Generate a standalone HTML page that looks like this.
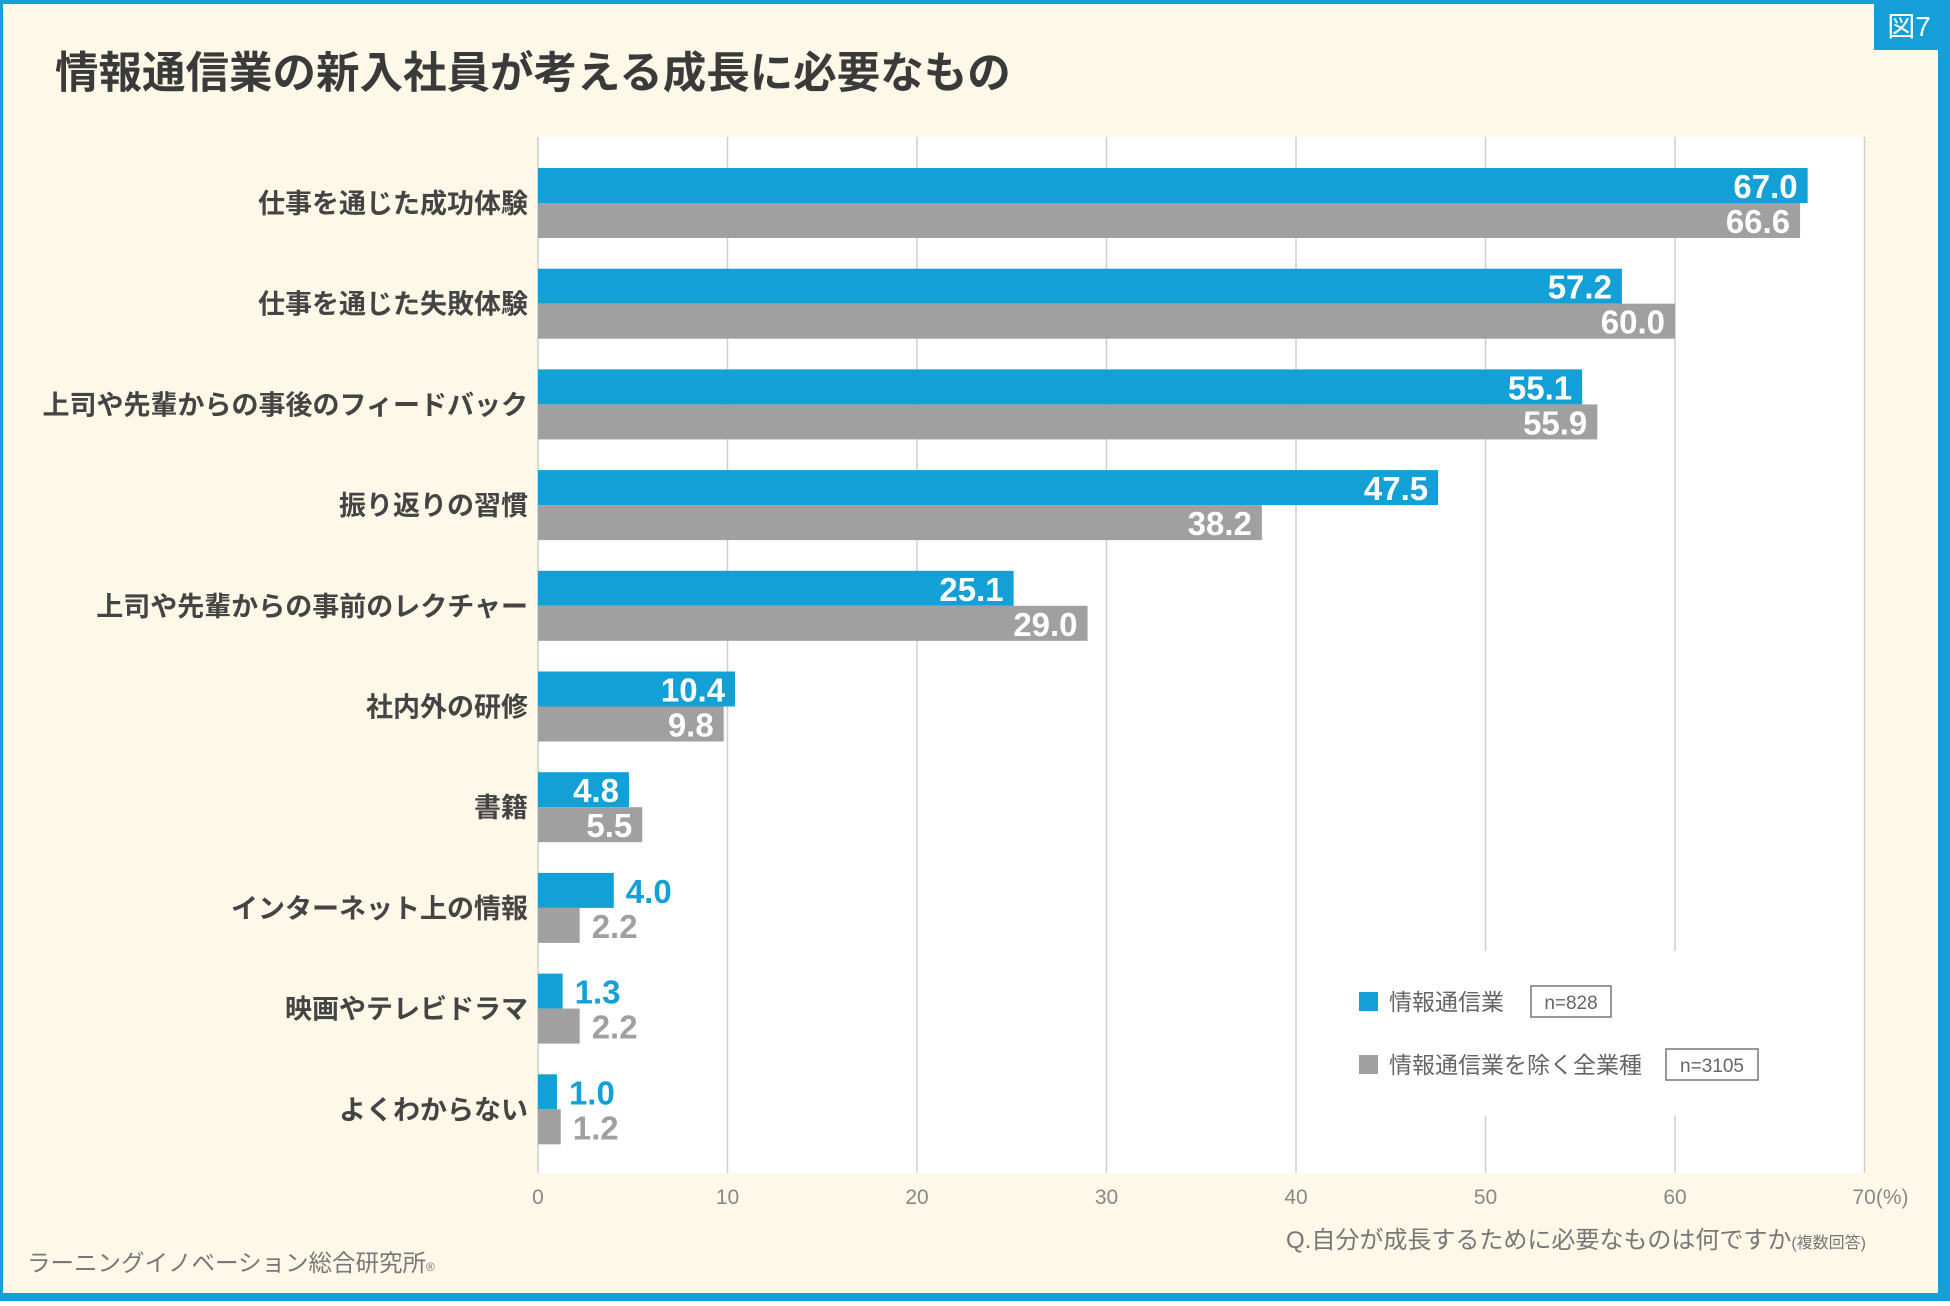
<!DOCTYPE html>
<html><head><meta charset="utf-8"><style>
html,body{margin:0;padding:0}
body{width:1950px;height:1301px;overflow:hidden;font-family:"Liberation Sans","Noto Sans CJK JP",sans-serif}
</style></head><body>
<svg id="chart" width="1950" height="1301" xmlns="http://www.w3.org/2000/svg" font-family="Liberation Sans, Noto Sans CJK JP, sans-serif">
<rect x="0" y="0" width="1950" height="1301" fill="#159fd8"/>
<rect x="3" y="4" width="1935" height="1289" fill="#fdf8e8"/>
<rect x="1874" y="2" width="70" height="48" fill="#159fd8"/>
<text x="1909" y="36" font-size="28" fill="#fff" text-anchor="middle">図7</text>
<text x="55" y="88" font-size="43.5" font-weight="bold" fill="#3a3a3a">情報通信業の新入社員が考える成長に必要なもの</text>
<rect x="538" y="137" width="1327" height="1036" fill="#fff"/>
<g id="grid"></g>
<rect x="1318" y="951" width="530" height="165" fill="#fff"/>
<g id="bars"></g>
<g id="ticks"></g>
<g>
<rect x="1359" y="992" width="19" height="19" fill="#12a0d7"/>
<text x="1389" y="1010" font-size="23" fill="#666">情報通信業</text>
<rect x="1531" y="986" width="80" height="31" fill="none" stroke="#777" stroke-width="1.5"/>
<text x="1571" y="1009" font-size="19" fill="#666" text-anchor="middle">n=828</text>
<rect x="1359" y="1055" width="19" height="19" fill="#a0a0a0"/>
<text x="1389" y="1073" font-size="23" fill="#666">情報通信業を除く全業種</text>
<rect x="1666" y="1049" width="92" height="31" fill="none" stroke="#777" stroke-width="1.5"/>
<text x="1712" y="1072" font-size="19" fill="#666" text-anchor="middle">n=3105</text>
</g>
<text x="1866" y="1248" font-size="24" fill="#777" text-anchor="end">Q.自分が成長するために必要なものは何ですか<tspan font-size="16">(複数回答)</tspan></text>
<text x="27" y="1271" font-size="23.5" fill="#777">ラーニングイノベーション総合研究所<tspan font-size="12">®</tspan></text>
</svg>
<script>
const categories=["仕事を通じた成功体験","仕事を通じた失敗体験","上司や先輩からの事後のフィードバック","振り返りの習慣","上司や先輩からの事前のレクチャー","社内外の研修","書籍","インターネット上の情報","映画やテレビドラマ","よくわからない"];
const ictValues=[67.0,57.2,55.1,47.5,25.1,10.4,4.8,4.0,1.3,1.0];
const otherValues=[66.6,60.0,55.9,38.2,29.0,9.8,5.5,2.2,2.2,1.2];
const tickValues=[0,10,20,30,40,50,60,70];
const tickLabels=["0","10","20","30","40","50","60","70(%)"];
const NS="http://www.w3.org/2000/svg";
const x0=538,x70=1864.5;
function xs(v){return x0+(x70-x0)*v/70;}
function ys(i){return 168+i*100.7;}
function mk(tag,attrs,parent,txt){const e=document.createElementNS(NS,tag);for(const k in attrs)e.setAttribute(k,attrs[k]);if(txt!==undefined)e.textContent=txt;parent.appendChild(e);return e;}
const grid=document.getElementById('grid'),bars=document.getElementById('bars'),ticks=document.getElementById('ticks');
tickValues.forEach((t,i)=>{
  const l=mk('line',{x1:xs(t),x2:xs(t),y1:137,y2:1173,stroke:'#cfcfcf','stroke-width':1.5},grid);
  
  
  const tx=mk('text',{x:xs(t),y:1204,'font-size':21,fill:'#888','text-anchor':i===tickValues.length-1?'start':'middle'},ticks,tickLabels[i]);
  if(i===tickValues.length-1)tx.setAttribute('x',xs(t)-12);
  
  
});
const bh=35;
categories.forEach((c,i)=>{
  const y=ys(i);
  const lab=mk('text',{x:528,y:y+bh+10,'font-size':27,'font-weight':'bold',fill:'#444','text-anchor':'end'},bars,c);
  
  
  [[ictValues[i],'#12a0d7',y,'ict'],[otherValues[i],'#a0a0a0',y+bh,'other']].forEach(([v,col,yy,s])=>{
    const r=mk('rect',{x:x0,y:yy,width:xs(v)-x0,height:bh,fill:col},bars);
    
    
    const inside=v>=4.5;
    const t=mk('text',{x:inside?xs(v)-10:xs(v)+12,y:yy+30,'font-size':33,'font-weight':'bold',fill:inside?'#fff':col,'text-anchor':inside?'end':'start'},bars,v.toFixed(1));
    
    
  });
});
</script>
</body></html>
